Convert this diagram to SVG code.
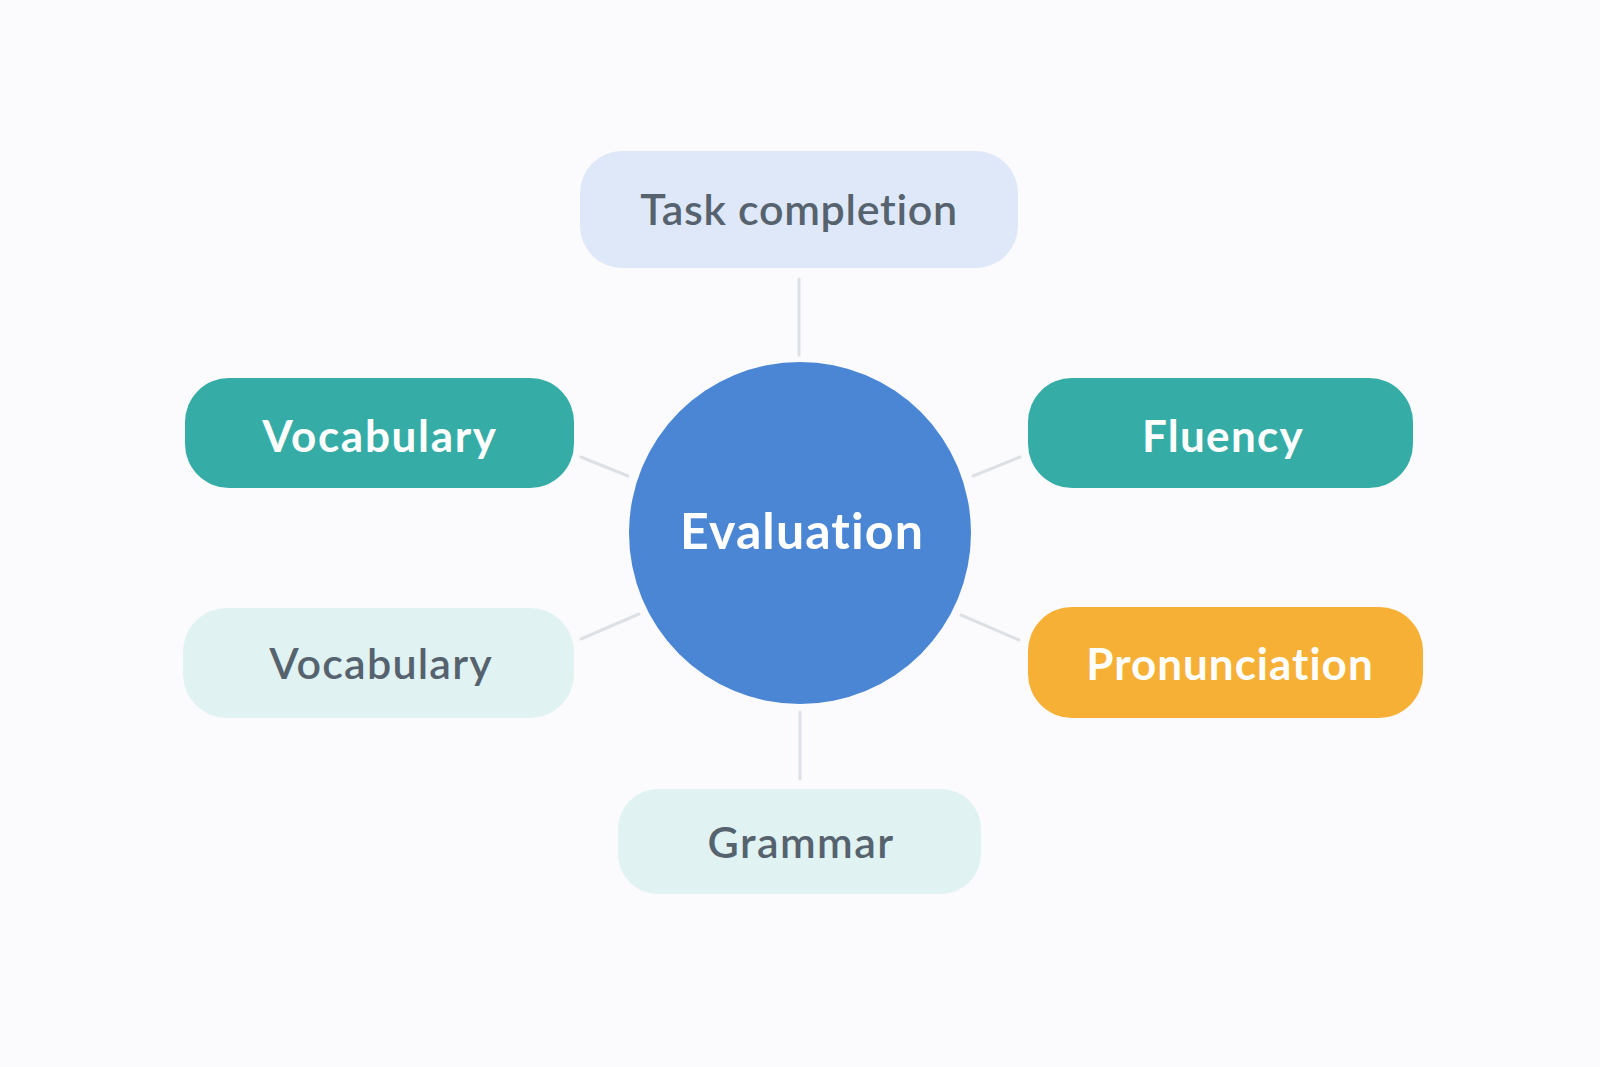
<svg xmlns="http://www.w3.org/2000/svg" width="1600" height="1067" viewBox="0 0 1600 1067">
<style>
.lbl{font-family:Lato,"Open Sans","Liberation Sans",sans-serif;text-anchor:middle;font-variant-ligatures:none;font-feature-settings:"liga" 0,"clig" 0}
.w{fill:#ffffff;font-weight:700;font-size:44px;letter-spacing:1.3px}
.g{fill:#56636f;font-weight:600;font-size:43px;letter-spacing:1.2px}
.conn{stroke:#dde1e5;stroke-width:3;stroke-linecap:round;fill:none}
</style>
<rect width="1600" height="1067" fill="#fbfbfd"/>
<g id="connectors">
<line class="conn" x1="799" y1="279" x2="799" y2="355"/>
<line class="conn" x1="800" y1="712" x2="800" y2="779"/>
<line class="conn" x1="581" y1="457" x2="628" y2="476"/>
<line class="conn" x1="581" y1="639" x2="639" y2="614"/>
<line class="conn" x1="973" y1="476" x2="1020" y2="457"/>
<line class="conn" x1="961" y1="615" x2="1019" y2="640"/>
</g>
<g id="task-completion">
<rect x="580" y="151" width="438" height="117" rx="42" fill="#dfe8f8"/>
<text class="lbl g" x="799" y="225" style="letter-spacing:0.7px">Task completion</text>
</g>
<g id="vocabulary-1">
<rect x="185" y="378" width="389" height="110" rx="44" fill="#35ada6"/>
<text class="lbl w" x="380" y="452" style="letter-spacing:1.7px">Vocabulary</text>
</g>
<g id="vocabulary-2">
<rect x="183" y="608" width="391" height="110" rx="44" fill="#e0f2f2"/>
<text class="lbl g" x="381" y="679">Vocabulary</text>
</g>
<g id="fluency">
<rect x="1028" y="378" width="385" height="110" rx="44" fill="#35ada6"/>
<text class="lbl w" x="1223" y="452">Fluency</text>
</g>
<g id="pronunciation">
<rect x="1028" y="607" width="395" height="111" rx="44" fill="#f7b036"/>
<text class="lbl w" x="1230" y="680" style="letter-spacing:1px">Pronunciation</text>
</g>
<g id="grammar">
<rect x="618" y="789" width="363" height="105" rx="40" fill="#e0f2f2"/>
<text class="lbl g" x="801" y="858" style="letter-spacing:1.4px">Grammar</text>
</g>
<g id="evaluation">
<circle cx="800" cy="533" r="171" fill="#4a86d4"/>
<text class="lbl" x="802" y="549" fill="#ffffff" font-weight="700" font-size="50" style="letter-spacing:1.1px">Evaluation</text>
</g>
</svg>
